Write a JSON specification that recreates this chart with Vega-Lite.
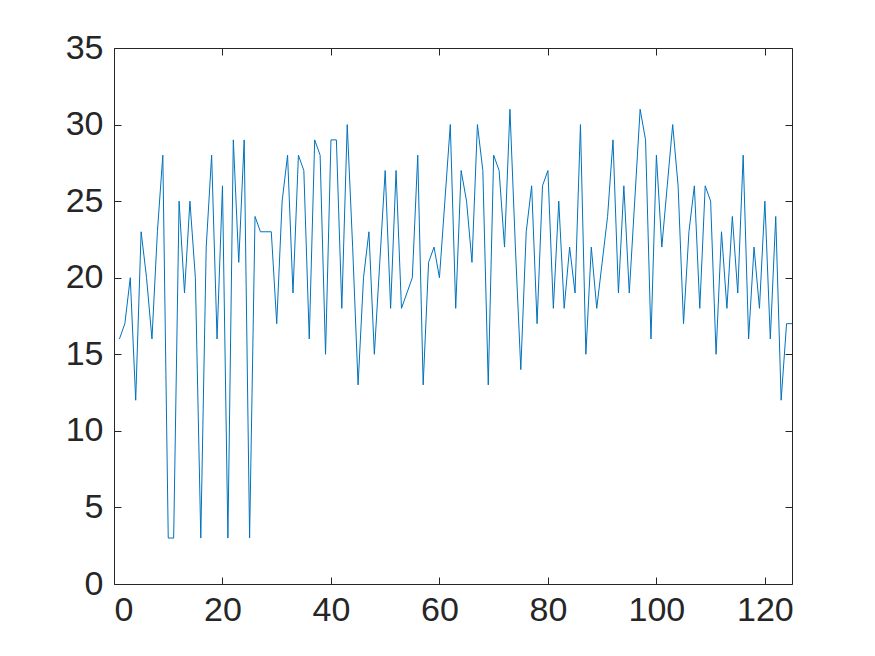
{
  "$schema": "https://vega.github.io/schema/vega-lite/v6.json",
  "width": 678,
  "height": 536,
  "autosize": {"type": "none"},
  "padding": {"left": 114, "top": 48, "right": 83, "bottom": 72},
  "background": "white",
  "config": {
    "view": {"stroke": "#262626", "strokeWidth": 1},
    "axis": {
      "grid": false,
      "domain": false,
      "tickSize": -7,
      "tickColor": "#262626",
      "tickWidth": 1,
      "labelFont": "Liberation Sans",
      "labelFontSize": 34,
      "labelColor": "#262626",
      "title": null
    }
  },
  "data": {"values": [
    {"x":1,"y":16},{"x":2,"y":17},{"x":3,"y":20},{"x":4,"y":12},{"x":5,"y":23},
    {"x":6,"y":20},{"x":7,"y":16},{"x":8,"y":23},{"x":9,"y":28},{"x":10,"y":3},
    {"x":11,"y":3},{"x":12,"y":25},{"x":13,"y":19},{"x":14,"y":25},{"x":15,"y":20},
    {"x":16,"y":3},{"x":17,"y":22},{"x":18,"y":28},{"x":19,"y":16},{"x":20,"y":26},
    {"x":21,"y":3},{"x":22,"y":29},{"x":23,"y":21},{"x":24,"y":29},{"x":25,"y":3},
    {"x":26,"y":24},{"x":27,"y":23},{"x":28,"y":23},{"x":29,"y":23},{"x":30,"y":17},
    {"x":31,"y":25},{"x":32,"y":28},{"x":33,"y":19},{"x":34,"y":28},{"x":35,"y":27},
    {"x":36,"y":16},{"x":37,"y":29},{"x":38,"y":28},{"x":39,"y":15},{"x":40,"y":29},
    {"x":41,"y":29},{"x":42,"y":18},{"x":43,"y":30},{"x":44,"y":22},{"x":45,"y":13},
    {"x":46,"y":20},{"x":47,"y":23},{"x":48,"y":15},{"x":49,"y":21},{"x":50,"y":27},
    {"x":51,"y":18},{"x":52,"y":27},{"x":53,"y":18},{"x":54,"y":19},{"x":55,"y":20},
    {"x":56,"y":28},{"x":57,"y":13},{"x":58,"y":21},{"x":59,"y":22},{"x":60,"y":20},
    {"x":61,"y":25},{"x":62,"y":30},{"x":63,"y":18},{"x":64,"y":27},{"x":65,"y":25},
    {"x":66,"y":21},{"x":67,"y":30},{"x":68,"y":27},{"x":69,"y":13},{"x":70,"y":28},
    {"x":71,"y":27},{"x":72,"y":22},{"x":73,"y":31},{"x":74,"y":22},{"x":75,"y":14},
    {"x":76,"y":23},{"x":77,"y":26},{"x":78,"y":17},{"x":79,"y":26},{"x":80,"y":27},
    {"x":81,"y":18},{"x":82,"y":25},{"x":83,"y":18},{"x":84,"y":22},{"x":85,"y":19},
    {"x":86,"y":30},{"x":87,"y":15},{"x":88,"y":22},{"x":89,"y":18},{"x":90,"y":21},
    {"x":91,"y":24},{"x":92,"y":29},{"x":93,"y":19},{"x":94,"y":26},{"x":95,"y":19},
    {"x":96,"y":25},{"x":97,"y":31},{"x":98,"y":29},{"x":99,"y":16},{"x":100,"y":28},
    {"x":101,"y":22},{"x":102,"y":26},{"x":103,"y":30},{"x":104,"y":26},{"x":105,"y":17},
    {"x":106,"y":23},{"x":107,"y":26},{"x":108,"y":18},{"x":109,"y":26},{"x":110,"y":25},
    {"x":111,"y":15},{"x":112,"y":23},{"x":113,"y":18},{"x":114,"y":24},{"x":115,"y":19},
    {"x":116,"y":28},{"x":117,"y":16},{"x":118,"y":22},{"x":119,"y":18},{"x":120,"y":25},
    {"x":121,"y":16},{"x":122,"y":24},{"x":123,"y":12},{"x":124,"y":17},{"x":125,"y":17}
  ]},
  "layer": [
    {
      "mark": {"type": "line", "color": "#0072BD", "strokeWidth": 1},
      "encoding": {
        "x": {"field": "x", "type": "quantitative",
              "scale": {"domain": [0, 125], "nice": false, "zero": false},
              "axis": {"orient": "bottom", "values": [0, 20, 40, 60, 80, 100, 120], "labelPadding": 16}},
        "y": {"field": "y", "type": "quantitative",
              "scale": {"domain": [0, 35], "nice": false, "zero": false},
              "axis": {"orient": "left", "values": [0, 5, 10, 15, 20, 25, 30, 35], "labelPadding": 18}}
      }
    },
    {
      "mark": {"type": "line", "opacity": 0},
      "encoding": {
        "x": {"field": "x", "type": "quantitative",
              "scale": {"domain": [0, 125], "nice": false, "zero": false},
              "axis": {"orient": "top", "values": [0, 20, 40, 60, 80, 100, 120], "labels": false}},
        "y": {"field": "y", "type": "quantitative",
              "scale": {"domain": [0, 35], "nice": false, "zero": false},
              "axis": {"orient": "right", "values": [0, 5, 10, 15, 20, 25, 30, 35], "labels": false}}
      }
    }
  ],
  "resolve": {"axis": {"x": "independent", "y": "independent"}}
}
